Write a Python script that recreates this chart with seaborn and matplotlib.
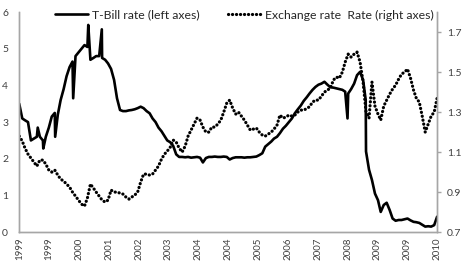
import numpy as np
import pandas as pd
import matplotlib
matplotlib.use("Agg")
import matplotlib.pyplot as plt
import matplotlib.dates as mdates
import seaborn as sns

# monthly readings, Jan 1999 - Oct 2010
tbill = [3.5, 3.1, 3.05, 3.0, 2.5, 2.55, 2.6, 2.6, 2.5, 2.6, 2.85, 3.15,
         3.25, 3.2, 3.6, 3.9, 4.25, 4.5, 4.65, 4.8, 4.9, 5.0, 5.1, 5.05,
         4.7, 4.75, 4.8, 4.8, 4.75, 4.7, 4.6, 4.45, 4.15, 3.65, 3.33, 3.3,
         3.3, 3.32, 3.33, 3.35, 3.38, 3.42, 3.38, 3.3, 3.24, 3.1, 3.0, 2.85,
         2.75, 2.62, 2.5, 2.45, 2.35, 2.12, 2.05, 2.05, 2.04, 2.05, 2.03, 2.04,
         2.05, 2.03, 1.9, 2.02, 2.05, 2.05, 2.06, 2.05, 2.05, 2.06, 2.05, 1.98,
         2.02, 2.04, 2.04, 2.04, 2.03, 2.04, 2.04, 2.05, 2.06, 2.1, 2.15, 2.33,
         2.4, 2.47, 2.55, 2.6, 2.7, 2.82, 2.9, 3.0, 3.1, 3.24, 3.35, 3.45,
         3.58, 3.68, 3.78, 3.88, 3.96, 4.02, 4.05, 4.1, 4.02, 3.95, 3.94, 3.92,
         3.9, 3.88, 3.83, 3.78, 3.9, 4.05, 4.28, 4.37, 4.15, 2.2, 1.7, 1.42,
         1.05, 0.87, 0.55, 0.74, 0.8, 0.6, 0.37, 0.31, 0.33, 0.33, 0.35, 0.37,
         0.32, 0.28, 0.27, 0.25, 0.2, 0.15, 0.16, 0.15, 0.19, 0.42]

exchange = [1.18, 1.155, 1.12, 1.09, 1.07, 1.05, 1.03, 1.06, 1.06, 1.04, 1.01, 1.0,
            1.01, 0.985, 0.965, 0.955, 0.94, 0.925, 0.9, 0.88, 0.86, 0.84, 0.83, 0.87,
            0.94, 0.92, 0.9, 0.88, 0.86, 0.85, 0.86, 0.91, 0.9, 0.9, 0.895, 0.89,
            0.875, 0.865, 0.875, 0.885, 0.9, 0.95, 0.99, 0.99, 0.985, 0.99, 1.01, 1.03,
            1.065, 1.09, 1.105, 1.125, 1.16, 1.15, 1.12, 1.1, 1.13, 1.18, 1.21, 1.24,
            1.27, 1.26, 1.225, 1.2, 1.2, 1.225, 1.225, 1.24, 1.26, 1.3, 1.345, 1.36,
            1.32, 1.29, 1.3, 1.28, 1.26, 1.235, 1.21, 1.215, 1.22, 1.2, 1.185, 1.18,
            1.19, 1.2, 1.215, 1.235, 1.285, 1.27, 1.275, 1.285, 1.28, 1.285, 1.3, 1.31,
            1.31, 1.318, 1.327, 1.35, 1.36, 1.36, 1.38, 1.4, 1.41, 1.42, 1.46, 1.475,
            1.47, 1.5, 1.55, 1.59, 1.575, 1.59, 1.6, 1.55, 1.45, 1.3, 1.27, 1.45,
            1.33, 1.29, 1.26, 1.33, 1.36, 1.39, 1.415, 1.435, 1.465, 1.49, 1.5, 1.515,
            1.47, 1.41, 1.37, 1.35, 1.28, 1.2, 1.24, 1.28, 1.3, 1.37]

# short one-day spikes in the T-bill series
spike_dates = ["1999-07-10", "1999-09-05", "2000-01-05", "2000-07-08",
               "2000-12-10", "2001-04-28", "2008-03-25", "2008-09-28"]
spike_values = [2.85, 2.28, 2.6, 3.65, 5.65, 5.53, 3.1, 3.6]

tick_labels = ["1999", "1999", "2000", "2001", "2002", "2003", "2004", "2004",
               "2005", "2006", "2007", "2008", "2009", "2009", "2010"]

months = pd.date_range("1999-01-01", periods=len(tbill), freq="MS")
tb = pd.DataFrame({"date": months, "rate": tbill})
spikes = pd.DataFrame({"date": pd.to_datetime(spike_dates), "rate": spike_values})
tb = pd.concat([tb, spikes]).sort_values("date").reset_index(drop=True)
ex = pd.DataFrame({"date": months, "rate": exchange})

sns.set_style("white")
plt.rcParams["font.family"] = ["Lato", "DejaVu Sans"]

fig = plt.figure(figsize=(4.69, 2.75), dpi=100)
ax = fig.add_axes([0.041, 0.156, 0.891, 0.80])
ax2 = ax.twinx()

sns.lineplot(data=tb, x="date", y="rate", ax=ax, color="black", lw=1.9,
             label="T-Bill rate (left axes)", legend=False)
sns.lineplot(data=ex, x="date", y="rate", ax=ax2, color="black", lw=2.3,
             linestyle=(0, (0.05, 1.2)), dash_capstyle="round",
             label="Exchange rate  Rate (right axes)", legend=False)

ax.set_xlim(months[0], months[-1])
ax.set_ylim(0, 6)
ax.set_yticks(range(7))
ax2.set_ylim(0.7, 1.8)
ax2.set_yticks([0.7, 0.9, 1.1, 1.3, 1.5, 1.7])
ax2.set_yticklabels(["0.7", "0.9", "1.1", "1.3", "1.5", "1.7"])

ticks = np.linspace(mdates.date2num(months[0]), mdates.date2num(months[-1]), len(tick_labels))
ax.set_xticks(ticks)
ax.set_xticklabels(tick_labels, rotation=90)

for a in (ax, ax2):
    a.set_xlabel("")
    a.set_ylabel("")
    a.spines["top"].set_visible(False)
    for s in ("left", "right", "bottom"):
        a.spines[s].set_color("#a6a6a6")
        a.spines[s].set_linewidth(1)

ax.tick_params(axis="y", length=0, labelsize=7.5, colors="#404040", pad=8)
ax.tick_params(axis="x", length=0, labelsize=7, colors="#404040", pad=4)
ax2.tick_params(axis="y", length=3, width=1, color="#a6a6a6", direction="out",
                labelsize=7.5, labelcolor="#404040", pad=4)

h1, l1 = ax.get_legend_handles_labels()
h2, l2 = ax2.get_legend_handles_labels()
fig.legend(h1 + h2, l1 + l2, loc="center", bbox_to_anchor=(0.521, 0.945), ncol=2,
           frameon=False, fontsize=8.8, handlelength=2.7, handletextpad=0.3,
           columnspacing=2.3, labelcolor="#262626")

fig.savefig("out.png", dpi=100)
